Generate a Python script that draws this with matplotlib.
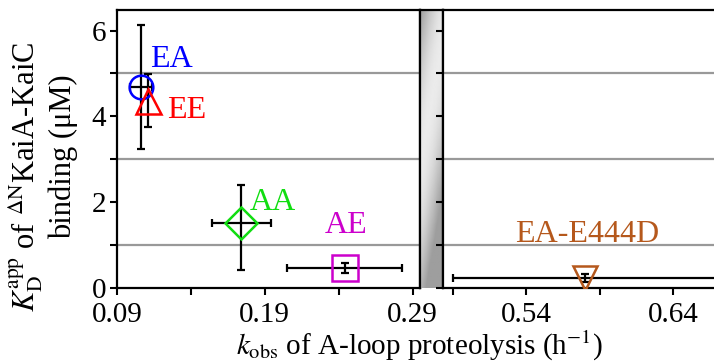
import numpy as np
import matplotlib
matplotlib.use("Agg")
import matplotlib.pyplot as plt

plt.rcParams['font.family'] = ['Liberation Serif', 'DejaVu Serif']
plt.rcParams['mathtext.fontset'] = 'stix'

# data
names = ['EA', 'EE', 'AA', 'AE', 'EA-E444D']
colors = ['#0000ff', '#ff0000', '#11dd11', '#cc00cc', '#b5581c']
markers = ['o', '^', 'D', 's', 'v']
kobs = [0.106, 0.111, 0.174, 0.244, 0.580]
kobs_err = [0.0075, 0.0, 0.020, 0.039, 0.090]
kd = [4.69, 4.37, 1.52, 0.46, 0.23]
kd_err_lo = [1.44, 0.61, 1.10, 0.12, 0.09]
kd_err_hi = [1.44, 0.61, 0.87, 0.12, 0.09]
label_pos = [(0.1123, 5.14), (0.1238, 3.97), (0.180, 1.82), (0.2307, 1.28), (0.5325, 1.08)]
msizes = [17, 18, 16, 19, 17]

fig = plt.figure(figsize=(7.14, 3.64), dpi=100)
W, H = 714.0, 364.0
y0, y1 = 288.0, 10.0
axL = fig.add_axes([117 / W, (H - y0) / H, (420 - 117) / W, (y0 - y1) / H])
axB = fig.add_axes([420 / W, (H - y0) / H, 23 / W, (y0 - y1) / H])
axR = fig.add_axes([443 / W, (H - y0) / H, (W - 443 + 5) / W, (y0 - y1) / H])

ymax = 6.48
axL.set_xlim(0.09, 0.295)
axR.set_xlim(0.4835, 0.4835 + 276 / 1470)
for ax in (axL, axR):
    ax.set_ylim(0, ymax)
    for g in [1, 3, 5]:
        ax.axhline(g, color='#999999', lw=1.6, zorder=1)
    for s in ax.spines.values():
        s.set_linewidth(1.6)
    ax.tick_params(which='both', direction='out', width=1.5, length=5, labelsize=21)
    ax.tick_params(axis='x', pad=5)

axL.set_xticks([0.09, 0.19, 0.29])
axL.set_xticklabels(['0.09', '0.19', '0.29'])
axL.set_xticks([0.14, 0.24], minor=True)
axL.set_yticks([0, 2, 4, 6])
axL.set_yticks([1, 3, 5], minor=True)
axL.tick_params(axis='y', pad=3)

axR.set_xticks([0.54, 0.64])
axR.set_xticklabels(['0.54', '0.64'])
axR.set_xticks([0.49, 0.59], minor=True)
axR.set_yticks([0, 1, 2, 3, 4, 5, 6])
axR.set_yticklabels([])
axR.spines['right'].set_visible(False)

# gradient bar for the axis break
yy, xx = np.mgrid[0:1:200j, 0:1:20j]
d = np.clip(xx * 0.4 + yy * 0.9, 0, 1)
shade = 0.62 + 0.3 * np.sin(np.pi * d)
axB.imshow(shade, cmap='gray', vmin=0, vmax=1, aspect='auto', extent=[0, 1, 0, 1])
axB.set_xticks([])
axB.set_yticks([])
axB.spines['bottom'].set_visible(False)
for s in ['left', 'right', 'top']:
    axB.spines[s].set_linewidth(1.6)

for i in range(len(names)):
    ax = axR if kobs[i] > 0.4 else axL
    ax.errorbar(kobs[i], kd[i], xerr=kobs_err[i] if kobs_err[i] > 0 else None,
                yerr=[[kd_err_lo[i]], [kd_err_hi[i]]],
                fmt='none', ecolor='black', elinewidth=1.6, capsize=3,
                capthick=1.6, zorder=3)
    ax.plot(kobs[i], kd[i], marker=markers[i], ms=msizes[i], mfc='none',
            mec=colors[i], mew=1.8, ls='none', zorder=4)
    ax.text(label_pos[i][0], label_pos[i][1], names[i], color=colors[i],
            fontsize=23, ha='left', va='baseline')

fig.text(0.587, 0.025, r'$k_\mathrm{obs}$ of A-loop proteolysis (h$^{-1}$)',
         fontsize=21, ha='center', va='baseline')
fig.text(0.036, 0.514, r'$K_\mathrm{D}^\mathrm{app}$ of $^{\Delta\mathrm{N}}$KaiA-KaiC',
         fontsize=22, ha='center', va='center', rotation=90)
fig.text(0.088, 0.569, 'binding (μM)',
         fontsize=22, ha='center', va='center', rotation=90)

fig.savefig('out.png', dpi=100)
